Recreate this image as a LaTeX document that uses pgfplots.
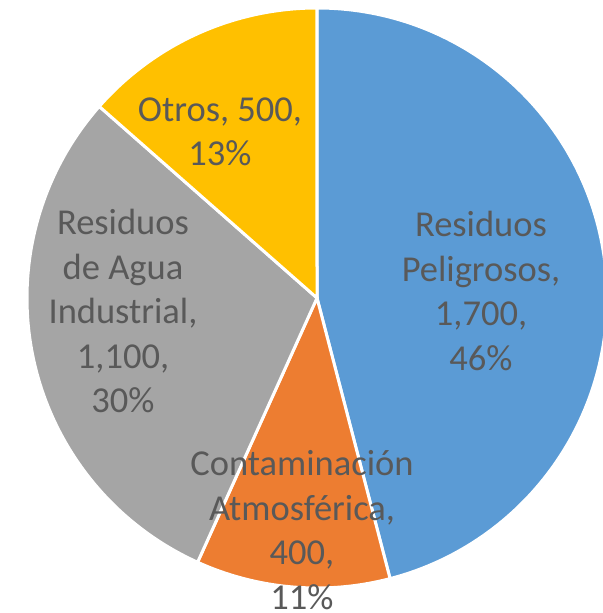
\documentclass[border=0pt]{standalone}
\usepackage{pgfplots}
\pgfplotsset{compat=1.18}
\usepackage{pgfplotstable}
\usepackage{fontspec}
\setmainfont{Carlito}

\definecolor{pieblue}{HTML}{5B9BD5}
\definecolor{pieorange}{HTML}{ED7D31}
\definecolor{piegray}{HTML}{A5A5A5}
\definecolor{pieyellow}{HTML}{FFC000}
\definecolor{labelgray}{HTML}{595959}

% clockwise from 12 o'clock
\pgfplotstableread{
value
1700
400
1100
500
}\piedata

\begin{document}
\begin{tikzpicture}
\pgfplotstablegetelem{0}{value}\of\piedata \let\va\pgfplotsretval
\pgfplotstablegetelem{1}{value}\of\piedata \let\vb\pgfplotsretval
\pgfplotstablegetelem{2}{value}\of\piedata \let\vc\pgfplotsretval
\pgfplotstablegetelem{3}{value}\of\piedata \let\vd\pgfplotsretval
\pgfmathsetmacro{\total}{\va+\vb+\vc+\vd}
\pgfmathsetmacro{\aA}{90}
\pgfmathsetmacro{\aB}{\aA-\va/\total*360}
\pgfmathsetmacro{\aC}{\aB-\vb/\total*360}
\pgfmathsetmacro{\aD}{\aC-\vc/\total*360}
\pgfmathsetmacro{\aE}{\aD-\vd/\total*360}
\def\R{290}
\begin{axis}[
    x=1bp, y=1bp,
    xmin=-317, xmax=286,
    ymin=-315, ymax=298,
    hide axis,
    clip=true,
]
    \fill[pieblue, draw=white, line width=3bp] (0,0) -- ({\R*cos(\aA)},{\R*sin(\aA)}) arc[start angle=\aA, end angle=\aB, radius=\R bp] -- cycle;
    \fill[pieorange, draw=white, line width=3bp] (0,0) -- ({\R*cos(\aB)},{\R*sin(\aB)}) arc[start angle=\aB, end angle=\aC, radius=\R bp] -- cycle;
    \fill[piegray, draw=white, line width=3bp] (0,0) -- ({\R*cos(\aC)},{\R*sin(\aC)}) arc[start angle=\aC, end angle=\aD, radius=\R bp] -- cycle;
    \fill[pieyellow, draw=white, line width=3bp] (0,0) -- ({\R*cos(\aD)},{\R*sin(\aD)}) arc[start angle=\aD, end angle=\aE, radius=\R bp] -- cycle;

    \begin{scope}[every node/.style={text=labelgray, align=center,
        font=\fontsize{36.5bp}{44.5bp}\selectfont}]
    \node at (164,7) {Residuos\\Peligrosos,\\1,700,\\46\%};
    \node at (-15,-232) {Contaminación\\Atmosférica,\\400,\\11\%};
    \node at (-194,-13) {Residuos\\de Agua\\Industrial,\\1,100,\\30\%};
    \node at (-97,166) {Otros, 500,\\13\%};
    \end{scope}
\end{axis}
\pgfresetboundingbox
\useasboundingbox (current axis.south west) rectangle (current axis.north east);
\end{tikzpicture}
\end{document}
